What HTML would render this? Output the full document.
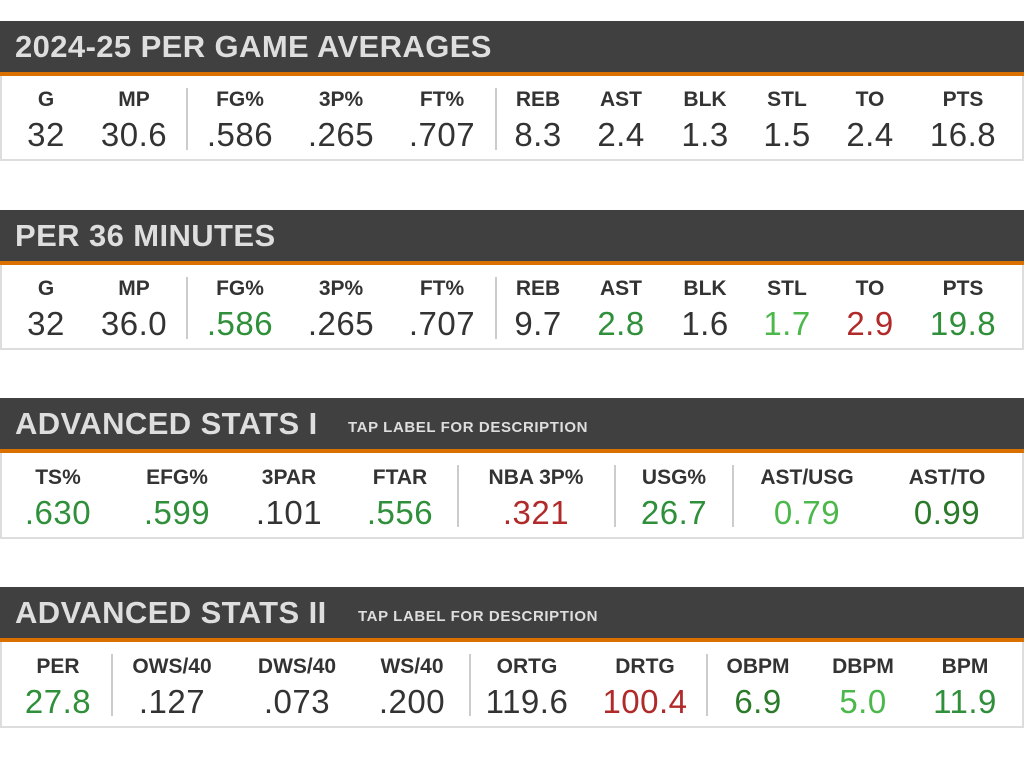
<!DOCTYPE html>
<html><head><meta charset="utf-8"><style>
body{margin:0;width:1024px;height:764px;background:#fff;position:relative;overflow:hidden;font-family:"Liberation Sans",sans-serif}
.h{position:absolute;left:0;width:1024px;height:51px;background:#404040;border-bottom:4px solid #d97000}
.h b{position:absolute;left:15px;top:8px;font-size:31px;color:#dedede;font-weight:bold;letter-spacing:0.4px}
.h i{position:absolute;font-style:normal;font-weight:bold;font-size:15px;color:#dedede;top:21px;letter-spacing:0.6px}
.bx{position:absolute;left:0;width:1020px;border:2px solid #ddd;border-top:none;background:#fff}
.c{position:absolute;width:140px;text-align:center}
.l{font-weight:bold;font-size:21px;color:#333}
.v{font-size:33px;color:#333;letter-spacing:0.5px}
.d{position:absolute;width:2px;background:#ccc}
.g{color:#2f8f3a}.lg{color:#4cb84c}.dg{color:#2a7a2a}.r{color:#b02a2a}
</style></head><body>

<div class="h" style="top:21px"><b>2024-25 PER GAME AVERAGES</b></div>
<div class="bx" style="top:76px;height:83px"></div>
<div class="d" style="left:186px;top:88px;height:62px"></div>
<div class="d" style="left:495px;top:88px;height:62px"></div>
<div style="position:absolute;top:88px;left:0">
<div class="c l" style="left:-24px">G</div><div class="c l" style="left:64px">MP</div><div class="c l" style="left:170px">FG%</div><div class="c l" style="left:271px">3P%</div><div class="c l" style="left:372px">FT%</div><div class="c l" style="left:468px">REB</div><div class="c l" style="left:551px">AST</div><div class="c l" style="left:635px">BLK</div><div class="c l" style="left:717px">STL</div><div class="c l" style="left:800px">TO</div><div class="c l" style="left:893px">PTS</div>
</div>
<div style="position:absolute;top:116px;left:0">
<div class="c v" style="left:-24px">32</div><div class="c v" style="left:64px">30.6</div><div class="c v" style="left:170px">.586</div><div class="c v" style="left:271px">.265</div><div class="c v" style="left:372px">.707</div><div class="c v" style="left:468px">8.3</div><div class="c v" style="left:551px">2.4</div><div class="c v" style="left:635px">1.3</div><div class="c v" style="left:717px">1.5</div><div class="c v" style="left:800px">2.4</div><div class="c v" style="left:893px">16.8</div>
</div>

<div class="h" style="top:210px"><b>PER 36 MINUTES</b></div>
<div class="bx" style="top:265px;height:83px"></div>
<div class="d" style="left:186px;top:277px;height:62px"></div>
<div class="d" style="left:495px;top:277px;height:62px"></div>
<div style="position:absolute;top:277px;left:0">
<div class="c l" style="left:-24px">G</div><div class="c l" style="left:64px">MP</div><div class="c l" style="left:170px">FG%</div><div class="c l" style="left:271px">3P%</div><div class="c l" style="left:372px">FT%</div><div class="c l" style="left:468px">REB</div><div class="c l" style="left:551px">AST</div><div class="c l" style="left:635px">BLK</div><div class="c l" style="left:717px">STL</div><div class="c l" style="left:800px">TO</div><div class="c l" style="left:893px">PTS</div>
</div>
<div style="position:absolute;top:305px;left:0">
<div class="c v" style="left:-24px">32</div><div class="c v" style="left:64px">36.0</div><div class="c v g" style="left:170px">.586</div><div class="c v" style="left:271px">.265</div><div class="c v" style="left:372px">.707</div><div class="c v" style="left:468px">9.7</div><div class="c v g" style="left:551px">2.8</div><div class="c v" style="left:635px">1.6</div><div class="c v lg" style="left:717px">1.7</div><div class="c v r" style="left:800px">2.9</div><div class="c v g" style="left:893px">19.8</div>
</div>

<div class="h" style="top:398px"><b>ADVANCED STATS I</b><i style="left:348px">TAP LABEL FOR DESCRIPTION</i></div>
<div class="bx" style="top:453px;height:84px"></div>
<div class="d" style="left:457px;top:465px;height:62px"></div>
<div class="d" style="left:614px;top:465px;height:62px"></div>
<div class="d" style="left:732px;top:465px;height:62px"></div>
<div style="position:absolute;top:466px;left:0">
<div class="c l" style="left:-12px">TS%</div><div class="c l" style="left:107px">EFG%</div><div class="c l" style="left:219px">3PAR</div><div class="c l" style="left:330px">FTAR</div><div class="c l" style="left:466px">NBA 3P%</div><div class="c l" style="left:604px">USG%</div><div class="c l" style="left:737px">AST/USG</div><div class="c l" style="left:877px">AST/TO</div>
</div>
<div style="position:absolute;top:494px;left:0">
<div class="c v g" style="left:-12px">.630</div><div class="c v g" style="left:107px">.599</div><div class="c v" style="left:219px">.101</div><div class="c v g" style="left:330px">.556</div><div class="c v r" style="left:466px">.321</div><div class="c v g" style="left:604px">26.7</div><div class="c v lg" style="left:737px">0.79</div><div class="c v dg" style="left:877px">0.99</div>
</div>

<div class="h" style="top:587px"><b>ADVANCED STATS II</b><i style="left:358px">TAP LABEL FOR DESCRIPTION</i></div>
<div class="bx" style="top:642px;height:84px"></div>
<div class="d" style="left:111px;top:654px;height:62px"></div>
<div class="d" style="left:469px;top:654px;height:62px"></div>
<div class="d" style="left:706px;top:654px;height:62px"></div>
<div style="position:absolute;top:655px;left:0">
<div class="c l" style="left:-12px">PER</div><div class="c l" style="left:102px">OWS/40</div><div class="c l" style="left:227px">DWS/40</div><div class="c l" style="left:342px">WS/40</div><div class="c l" style="left:457px">ORTG</div><div class="c l" style="left:575px">DRTG</div><div class="c l" style="left:688px">OBPM</div><div class="c l" style="left:793px">DBPM</div><div class="c l" style="left:895px">BPM</div>
</div>
<div style="position:absolute;top:683px;left:0">
<div class="c v g" style="left:-12px">27.8</div><div class="c v" style="left:102px">.127</div><div class="c v" style="left:227px">.073</div><div class="c v" style="left:342px">.200</div><div class="c v" style="left:457px">119.6</div><div class="c v r" style="left:575px">100.4</div><div class="c v dg" style="left:688px">6.9</div><div class="c v lg" style="left:793px">5.0</div><div class="c v g" style="left:895px">11.9</div>
</div>
</body></html>
